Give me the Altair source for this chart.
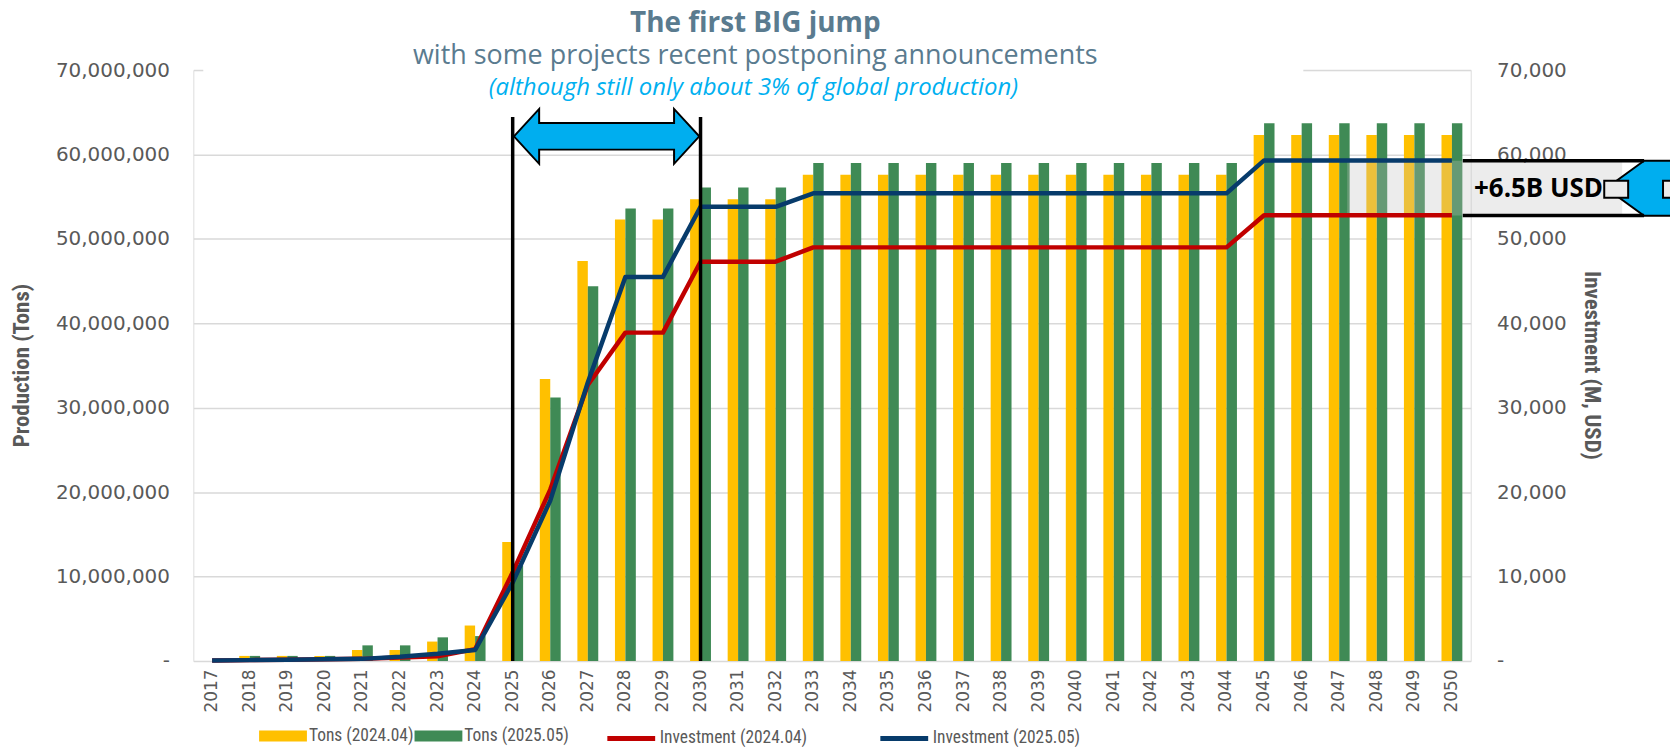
import altair as alt
import pandas as pd

# ---------------- data ----------------
years = ["2017", "2018", "2019", "2020", "2021", "2022", "2023", "2024", "2025", "2026",
         "2027", "2028", "2029", "2030", "2031", "2032", "2033", "2034", "2035", "2036",
         "2037", "2038", "2039", "2040", "2041", "2042", "2043", "2044", "2045", "2046",
         "2047", "2048", "2049", "2050"]

# production, million tons
tons_2024_04 = [0.0, 0.6, 0.6, 0.6, 1.3, 1.3, 2.3, 4.2, 14.1, 33.4,
                47.4, 52.3, 52.3, 54.7, 54.7, 54.7, 57.6, 57.6, 57.6, 57.6,
                57.6, 57.6, 57.6, 57.6, 57.6, 57.6, 57.6, 57.6, 62.3, 62.3,
                62.3, 62.3, 62.3, 62.3]
tons_2025_05 = [0.0, 0.6, 0.6, 0.6, 1.85, 1.85, 2.8, 2.95, 11.3, 31.2,
                44.4, 53.6, 53.6, 56.1, 56.1, 56.1, 59.0, 59.0, 59.0, 59.0,
                59.0, 59.0, 59.0, 59.0, 59.0, 59.0, 59.0, 59.0, 63.7, 63.7,
                63.7, 63.7, 63.7, 63.7]

# investment, M USD
inv_2024_04 = [50, 100, 150, 200, 250, 400, 550, 1400, 10500, 20300,
               32700, 38900, 38900, 47300, 47300, 47300, 49000, 49000, 49000, 49000,
               49000, 49000, 49000, 49000, 49000, 49000, 49000, 49000, 52800, 52800,
               52800, 52800, 52800, 52800]
inv_2025_05 = [50, 100, 150, 200, 250, 500, 850, 1300, 9300, 19000,
               33000, 45500, 45500, 53800, 53800, 53800, 55400, 55400, 55400, 55400,
               55400, 55400, 55400, 55400, 55400, 55400, 55400, 55400, 59300, 59300,
               59300, 59300, 59300, 59300]

bar_series = ["Tons (2024.04)", "Tons (2025.05)"]
line_series = ["Investment (2024.04)", "Investment (2025.05)"]
left_ticks = [0, 10000000, 20000000, 30000000, 40000000, 50000000, 60000000, 70000000]
right_ticks = [0, 10000, 20000, 30000, 40000, 50000, 60000, 70000]
marker_years = ["2025", "2030"]
arrow_year = ["2027"]

title_main = "The first BIG jump"
title_sub = "with some projects recent postponing announcements"
title_note = "(although still only about 3% of global production)"
delta_label = "+6.5B USD"

# ---------------- tables ----------------
bar_rows = []
for s, vals in zip(bar_series, [tons_2024_04, tons_2025_05]):
    for y, v in zip(years, vals):
        bar_rows.append({"year": y, "series": s, "tons": v * 1e6})
bars_df = pd.DataFrame(bar_rows)

line_rows = []
for s, vals in zip(line_series, [inv_2024_04, inv_2025_05]):
    for y, v in zip(years, vals):
        line_rows.append({"year": y, "series": s, "inv": v})
lines_df = pd.DataFrame(line_rows)

# ---------------- layout ----------------
W, H = 1282, 593
PAD_L, PAD_T = 186, 61
PAD_R = 1668 - PAD_L - W
PAD_B = 85

GRAY = "#595959"
NARROW = "Liberation Sans Narrow, Arial Narrow, Roboto Condensed, Liberation Sans, sans-serif"
TITLE_FONT = "Open Sans, Noto Sans, sans-serif"

xscale = alt.Scale(domain=years, paddingInner=0, paddingOuter=0)
x_axis = alt.Axis(title=None, labelAngle=270, labelFont="DejaVu Sans", labelFontSize=17,
                  labelColor=GRAY, labelPadding=8, ticks=False, domain=False, grid=False)
one = pd.DataFrame({"k": [0]})

bars = alt.Chart(bars_df).mark_bar().encode(
    x=alt.X("year:N", scale=xscale, sort=years, axis=x_axis),
    xOffset=alt.XOffset("series:N", scale=alt.Scale(domain=bar_series, paddingInner=0, paddingOuter=0.8)),
    y=alt.Y("tons:Q", scale=alt.Scale(domain=[0, 70000000], nice=False),
            axis=alt.Axis(values=left_ticks, orient="left",
                          labelExpr="datum.value == 0 ? '-\u00a0\u00a0' : format(datum.value, ',')",
                          labelFont="DejaVu Sans", labelFontSize=20, labelColor=GRAY, labelPadding=24,
                          ticks=False, domain=False, grid=True, gridColor="#D9D9D9", gridWidth=1.5,
                          title="Production (Tons)", titleFont=NARROW, titleFontSize=23,
                          titleFontWeight="bold", titleColor=GRAY, titleAngle=270,
                          titleX=-172, titleY=296, titleAlign="center", titleBaseline="middle")),
    color=alt.Color("series:N", scale=alt.Scale(domain=bar_series, range=["#FFC000", "#3F8A55"]),
                    legend=alt.Legend(title=None, orient="none", legendX=66, legendY=644,
                                      direction="horizontal", symbolType="M-1,-0.23H1V0.23H-1Z",
                                      symbolSize=2304, symbolStrokeWidth=0, labelFont=NARROW,
                                      labelFontSize=17.5, labelColor=GRAY, labelOffset=2,
                                      columnPadding=-3, padding=0, labelLimit=400)),
)

box = alt.Chart(one).mark_rect(fill="#BFBFBF", opacity=0.3).encode(
    x=alt.value(1158), x2=alt.value(1434), y=alt.value(91), y2=alt.value(146))

lines = alt.Chart(lines_df).mark_line(strokeWidth=4.5, strokeJoin="round").encode(
    x=alt.X("year:N", scale=xscale, sort=years, axis=x_axis),
    y=alt.Y("inv:Q", scale=alt.Scale(domain=[0, 70000], nice=False),
            axis=alt.Axis(values=right_ticks, orient="right",
                          labelExpr="datum.value == 0 ? '-' : format(datum.value, ',')",
                          labelFont="DejaVu Sans", labelFontSize=20, labelColor=GRAY, labelPadding=26,
                          ticks=False, domain=False, grid=False,
                          title="Investment (M, USD)", titleFont=NARROW, titleFontSize=23,
                          titleFontWeight="bold", titleColor=GRAY, titleAngle=90,
                          titleX=121, titleY=296, titleAlign="center", titleBaseline="middle")),
    stroke=alt.Stroke("series:N", scale=alt.Scale(domain=line_series, range=["#C00000", "#073B6B"]),
                      legend=alt.Legend(title=None, orient="none", legendX=413, legendY=644,
                                        direction="horizontal", symbolType="stroke",
                                        symbolSize=2304, symbolStrokeWidth=5, labelFont=NARROW,
                                        labelFontSize=17.5, labelColor=GRAY, labelOffset=2,
                                        columnPadding=62, padding=0, labelLimit=400)),
)

# ---------------- annotations ----------------
white_gap = alt.Chart(one).mark_rect(fill="white").encode(
    x=alt.value(10), x2=alt.value(1114), y=alt.value(-6), y2=alt.value(6))

vrules = alt.Chart(pd.DataFrame({"year": marker_years})).mark_rule(color="black", strokeWidth=3.5).encode(
    x=alt.X("year:N", scale=xscale, bandPosition=0.5, axis=x_axis),
    y=alt.value(47), y2=alt.value(H))

ARROW = ("M-1,0L-0.728,-0.296L-0.728,-0.143L0.728,-0.143L0.728,-0.296L1,0"
         "L0.728,0.296L0.728,0.143L-0.728,0.143L-0.728,0.296Z")
top_arrow = alt.Chart(pd.DataFrame({"year": arrow_year})).mark_point(
    shape=ARROW, size=34596, filled=True, fill="#00AEEF", stroke="black", strokeWidth=2,
    opacity=1, fillOpacity=1).encode(
    x=alt.X("year:N", scale=xscale, bandPosition=1, axis=x_axis),
    y=alt.value(66.5))

t1 = alt.Chart(pd.DataFrame({"t": [title_main]})).mark_text(
    font=TITLE_FONT, fontSize=28, fontWeight="bold", color="#5A7B8F", align="center", baseline="middle").encode(
    x=alt.value(564), y=alt.value(-46), text="t:N")
t2 = alt.Chart(pd.DataFrame({"t": [title_sub]})).mark_text(
    font=TITLE_FONT, fontSize=27, fontWeight="normal", color="#5A7B8F", align="center", baseline="middle").encode(
    x=alt.value(564), y=alt.value(-14), text="t:N")
t3 = alt.Chart(pd.DataFrame({"t": [title_note]})).mark_text(
    font=TITLE_FONT, fontSize=24, fontStyle="italic", color="#00B0F0", align="center", baseline="middle").encode(
    x=alt.value(562), y=alt.value(17.5), text="t:N")

hrule_top = alt.Chart(one).mark_rule(color="black", strokeWidth=3.5).encode(
    x=alt.value(1274), x2=alt.value(1456), y=alt.value(91))
hrule_bot = alt.Chart(one).mark_rule(color="black", strokeWidth=3.5).encode(
    x=alt.value(1274), x2=alt.value(1456), y=alt.value(146))

VARROW = "M0,-0.69L-0.95,0L0,0.69L1.3,0.69L1.3,-0.69Z"
side_arrow = alt.Chart(one).mark_point(
    shape=VARROW, size=6400, filled=True, fill="#00AEEF", stroke="black", strokeWidth=2,
    opacity=1, fillOpacity=1).encode(x=alt.value(1456), y=alt.value(118.5))
stub_l = alt.Chart(one).mark_rect(fill="#EBEBEB", stroke="black", strokeWidth=2).encode(
    x=alt.value(1416), x2=alt.value(1440), y=alt.value(111), y2=alt.value(128))
stub_r = alt.Chart(one).mark_rect(fill="#EBEBEB", stroke="black", strokeWidth=2).encode(
    x=alt.value(1475), x2=alt.value(1500), y=alt.value(111), y2=alt.value(128))

delta_txt = alt.Chart(pd.DataFrame({"t": [delta_label]})).mark_text(
    font=TITLE_FONT, fontSize=26, fontWeight="bold", color="black", align="center", baseline="middle").encode(
    x=alt.value(1350), y=alt.value(119), text="t:N")

bar_group = alt.layer(bars, box)
line_group = alt.layer(lines)
annot_group = alt.layer(white_gap, vrules, top_arrow, t1, t2, t3,
                        side_arrow, stub_l, stub_r, hrule_top, hrule_bot, delta_txt)

chart = alt.layer(bar_group, line_group, annot_group).resolve_scale(
    y="independent", color="independent", stroke="independent"
).properties(
    width=W, height=H,
    autosize=alt.AutoSizeParams(type="none"),
    padding={"left": PAD_L, "top": PAD_T, "right": PAD_R, "bottom": PAD_B},
).configure_view(stroke=None).configure(font="DejaVu Sans")

chart.save("out.html", embed_options={"renderer": "svg", "actions": False})
